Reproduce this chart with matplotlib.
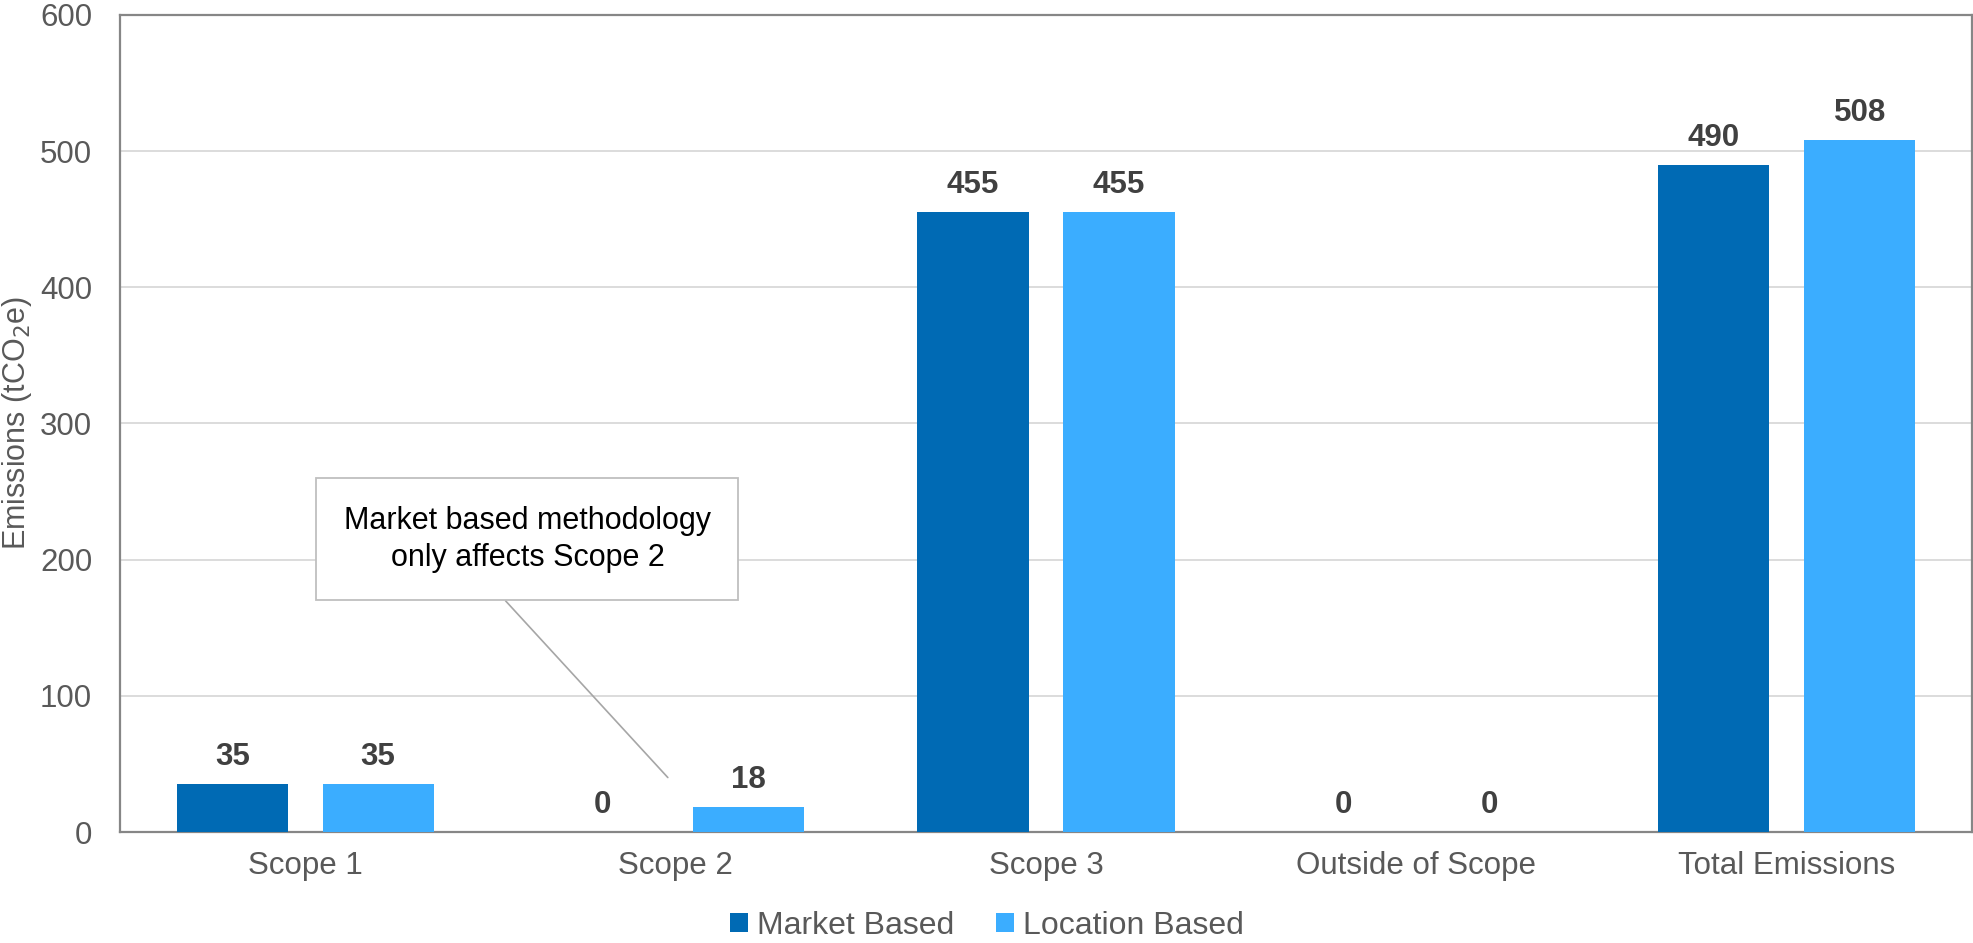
import matplotlib
matplotlib.use("Agg")
import matplotlib.pyplot as plt
import numpy as np

# ==== Data ==== #
categories = ["Scope 1", "Scope 2", "Scope 3", "Outside of Scope", "Total Emissions"]
market_based = [35, 0, 455, 0, 490]
location_based = [35, 18, 455, 0, 508]
series_names = ["Market Based", "Location Based"]

# ==== Style ==== #
plt.rcParams["font.family"] = ["Liberation Sans", "DejaVu Sans"]
dark_blue = "#006AB4"
light_blue = "#3BADFF"
tick_grey = "#595959"
label_grey = "#404040"

W, H = 1974, 943
fig = plt.figure(figsize=(W / 100, H / 100), dpi=100)
# axes box in pixels: left 120, right 1972, top 15, bottom 832
ax = fig.add_axes([120 / W, 1 - 832 / H, 1852 / W, 817 / H])

x = np.arange(len(categories))
width = 0.30
offset = 0.197
bars_m = ax.bar(x - offset, market_based, width, color=dark_blue, label=series_names[0], zorder=3)
bars_l = ax.bar(x + offset, location_based, width, color=light_blue, label=series_names[1], zorder=3)

# value labels above bars
for bars in (bars_m, bars_l):
    for b in bars:
        h = b.get_height()
        ax.text(b.get_x() + b.get_width() / 2, h + 9, f"{h:.0f}",
                ha="center", va="bottom", fontsize=22.5, fontweight="bold", color=label_grey)

ax.set_xlim(-0.5, len(categories) - 0.5)
ax.set_ylim(0, 600)
ax.set_yticks(range(0, 601, 100))
ax.set_xticks(x)
ax.set_xticklabels(categories)
ax.tick_params(axis="both", length=0, labelsize=22.5, colors=tick_grey)
ax.tick_params(axis="x", pad=14)
ax.tick_params(axis="y", pad=20)
ax.yaxis.grid(True, color="#d9d9d9", linewidth=1.3, zorder=0)
for s in ax.spines.values():
    s.set_color("#868686")
    s.set_linewidth(1.6)

ax.set_ylabel("Emissions (tCO$_2$e)", fontsize=22, color=tick_grey, labelpad=4)

# callout box
ax.annotate("Market based methodology\nonly affects Scope 2",
            xy=(0.979, 40), xytext=(0.600, 215),
            ha="center", va="center", fontsize=22, color="black", linespacing=1.3,
            bbox=dict(boxstyle="square,pad=0.9", fc="white", ec="#bfbfbf", lw=1.3),
            arrowprops=dict(arrowstyle="-", color="#a6a6a6", lw=1.2,
                            shrinkA=0, shrinkB=0, relpos=(0.37, 0.0)),
            zorder=5)

leg = fig.legend(loc="center", bbox_to_anchor=(0.5, 1 - 926 / H), ncol=2, frameon=False,
                 fontsize=23, handlelength=0.55, handleheight=0.55, handletextpad=0.3,
                 columnspacing=1.3, borderpad=0)
for t in leg.get_texts():
    t.set_color(tick_grey)

fig.savefig("out.png", dpi=100)
